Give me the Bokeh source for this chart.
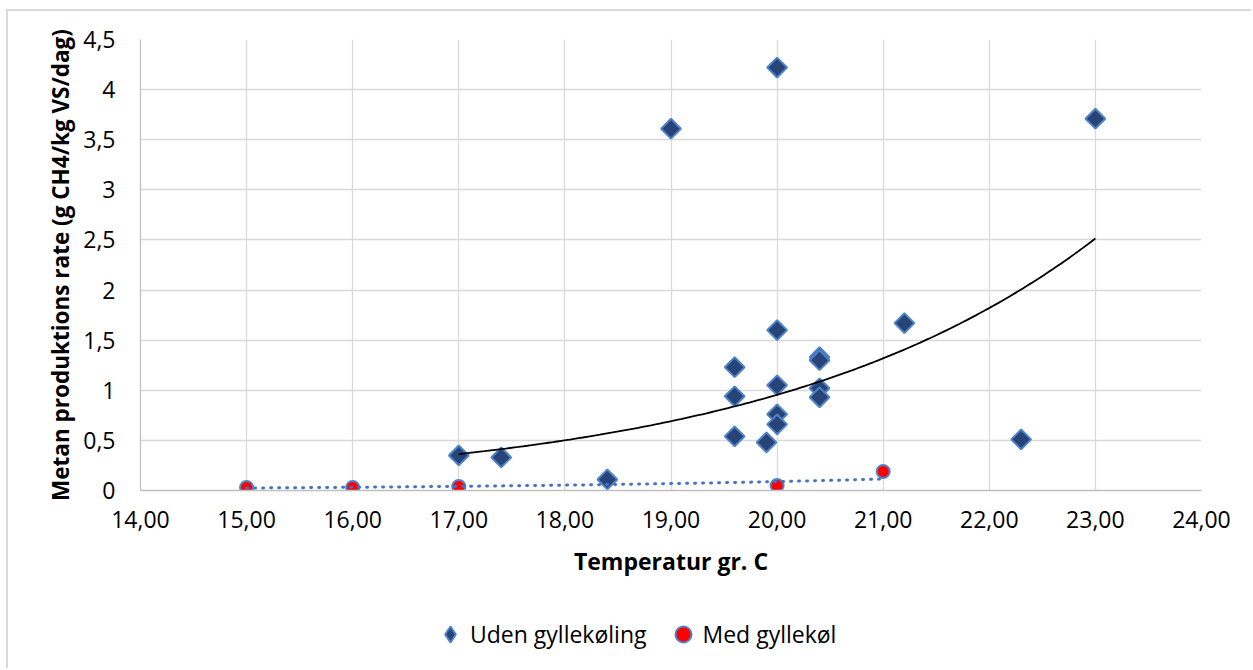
import numpy as np
from bokeh.plotting import figure
from bokeh.layouts import column
from bokeh.models import Range1d, FixedTicker, Legend, LegendItem, ColumnDataSource
from bokeh.embed import file_html
from bokeh.resources import INLINE

# Methane production rate vs. slurry temperature
temp_uden = [17.0, 17.4, 18.4, 19.0, 19.6, 19.6, 19.6, 19.9, 20.0, 20.0,
             20.0, 20.0, 20.0, 20.4, 20.4, 20.4, 20.4, 21.2, 22.3, 23.0]
rate_uden = [0.35, 0.33, 0.11, 3.61, 1.23, 0.94, 0.54, 0.48, 4.22, 1.60,
             1.05, 0.76, 0.66, 1.33, 1.30, 1.02, 0.93, 1.67, 0.51, 3.71]

temp_med = [15.0, 16.0, 17.0, 20.0, 21.0]
rate_med = [0.03, 0.03, 0.04, 0.05, 0.19]

x_ticks = [14, 15, 16, 17, 18, 19, 20, 21, 22, 23, 24]
x_tick_labels = ["14,00", "15,00", "16,00", "17,00", "18,00", "19,00",
                 "20,00", "21,00", "22,00", "23,00", "24,00"]
y_ticks = [0, 0.5, 1, 1.5, 2, 2.5, 3, 3.5, 4, 4.5]
y_tick_labels = ["0", "0,5", "1", "1,5", "2", "2,5", "3", "3,5", "4", "4,5"]

series_names = ["Uden gyllekøling", "Med gyllekøl"]

FONT = "Open Sans"
GRID = "#D9D9D9"
EDGE = "#4F81C7"
NAVY = "#264478"
RED = "#FF0000"

UDEN_STYLE = dict(marker="square", angle=np.pi / 4, size=14,
                  fill_color=NAVY, line_color=EDGE, line_width=2)
MED_STYLE = dict(marker="circle", size=13,
                 fill_color=RED, line_color=EDGE, line_width=2)


def exp_trend(xs, ys, n=150):
    """Exponential least-squares trend (fit of ln y on x)."""
    xs = np.asarray(xs, dtype=float)
    ys = np.asarray(ys, dtype=float)
    b, ln_a = np.polyfit(xs, np.log(ys), 1)
    xx = np.linspace(xs.min(), xs.max(), n)
    return xx, np.exp(ln_a + b * xx)


# ---- main scatter chart -------------------------------------------------
p = figure(width=1245, height=600,
           x_range=Range1d(14, 24), y_range=Range1d(0, 4.5),
           output_backend="svg", toolbar_location=None,
           min_border_left=132, min_border_right=52,
           min_border_top=28, min_border_bottom=121)
p.background_fill_color = "white"
p.border_fill_color = "white"
p.outline_line_color = None
p.styles = {"margin-left": "6px", "margin-top": "9px",
            "border-left": "2px solid #D9D9D9",
            "border-top": "2px solid #D9D9D9"}

src_uden = ColumnDataSource(dict(x=temp_uden, y=rate_uden))
src_med = ColumnDataSource(dict(x=temp_med, y=rate_med))

p.scatter("x", "y", source=src_uden, **UDEN_STYLE)
p.scatter("x", "y", source=src_med, **MED_STYLE)

tx, ty = exp_trend(temp_uden, rate_uden)
p.line(tx, ty, line_color="black", line_width=1.8)

mx, my = exp_trend(temp_med, rate_med)
p.line(mx, my, line_color="#4472C4", line_width=3, line_dash="1 7",
       line_cap="round")

p.xaxis.ticker = FixedTicker(ticks=x_ticks)
p.yaxis.ticker = FixedTicker(ticks=y_ticks)
p.xaxis.major_label_overrides = dict(zip(x_ticks, x_tick_labels))
p.yaxis.major_label_overrides = dict(zip(y_ticks, y_tick_labels))
p.xgrid.ticker = FixedTicker(ticks=x_ticks)
p.ygrid.ticker = FixedTicker(ticks=y_ticks)
for g in (p.xgrid, p.ygrid):
    g.grid_line_color = GRID
    g.grid_line_width = 1.3

for ax in (p.xaxis, p.yaxis):
    ax.axis_line_color = "#BFBFBF"
    ax.axis_line_width = 1.3
    ax.major_tick_line_color = None
    ax.minor_tick_line_color = None
    ax.major_tick_out = 0
    ax.major_tick_in = 0
    ax.major_label_text_font = FONT
    ax.major_label_text_font_size = "23px"
    ax.major_label_text_color = "black"
    ax.axis_label_text_font = FONT
    ax.axis_label_text_font_size = "23px"
    ax.axis_label_text_font_style = "bold"
    ax.axis_label_text_color = "black"

p.xaxis.axis_label = "Temperatur gr. C"
p.yaxis.axis_label = "Metan produktions rate (g CH4/kg VS/dag)"
p.yaxis.axis_label_text_font_size = "22.5px"
p.xaxis.major_label_standoff = 20
p.yaxis.major_label_standoff = 25
p.xaxis.axis_label_standoff = 14
p.yaxis.axis_label_standoff = 4

# ---- legend strip under the chart -----------------------------------------
pl = figure(width=1245, height=59, x_range=Range1d(0, 1), y_range=Range1d(0, 1),
            output_backend="svg", toolbar_location=None,
            x_axis_type=None, y_axis_type=None,
            min_border_left=0, min_border_right=0,
            min_border_top=0, min_border_bottom=0)
pl.grid.visible = False
pl.outline_line_color = None
pl.background_fill_color = "white"
pl.border_fill_color = "white"
pl.styles = {"margin-left": "6px", "border-left": "2px solid #D9D9D9"}

# legend keys only: single points parked outside the visible range
# (legend keys are drawn unrotated, so the diamond key uses the diamond marker)
leg_uden = pl.scatter(x=[-5], y=[-5], marker="diamond", fill_color=NAVY,
                      line_color=EDGE, line_width=2)
leg_med = pl.scatter(x=[-5], y=[-5], **MED_STYLE)

legend = Legend(items=[LegendItem(label=series_names[0], renderers=[leg_uden]),
                       LegendItem(label=series_names[1], renderers=[leg_med])],
                orientation="horizontal", location=(290, 14),
                glyph_width=40, glyph_height=40, label_standoff=0, spacing=16,
                padding=0, margin=0, border_line_color=None,
                background_fill_alpha=0,
                label_text_font=FONT, label_text_font_size="23px",
                label_text_color="black")
pl.add_layout(legend, "center")

root = column(p, pl, spacing=0)
open("out.html", "w").write(file_html(root, INLINE))
